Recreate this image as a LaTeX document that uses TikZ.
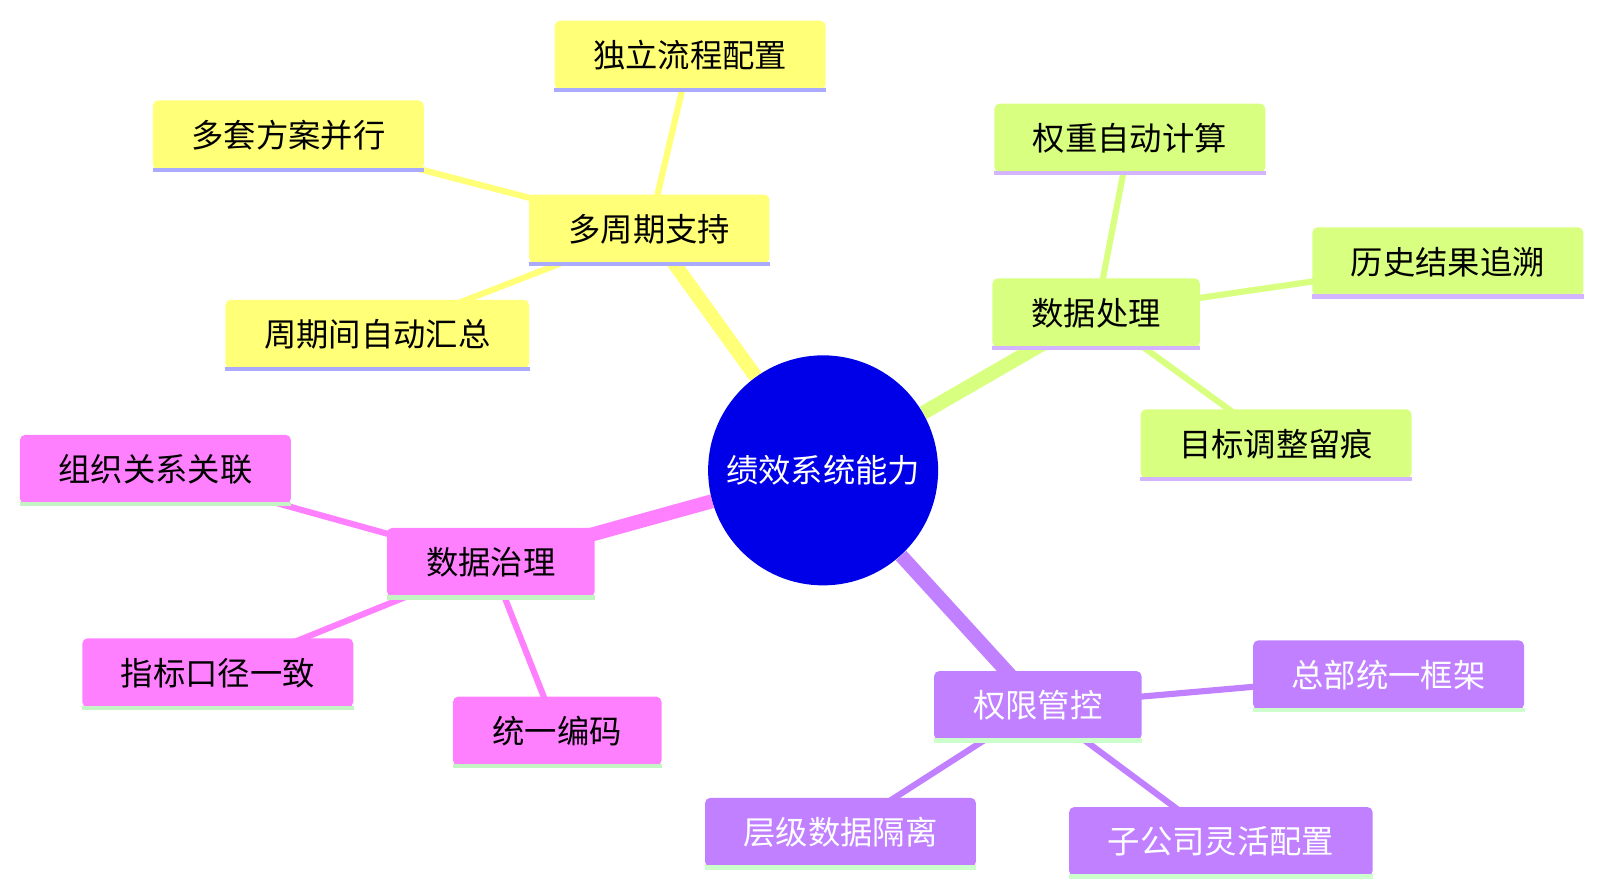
\documentclass[tikz,border=0pt]{standalone}
\usepackage{fontspec}
\setmainfont{Noto Sans CJK SC}
\usetikzlibrary{backgrounds}
\definecolor{ylw}{HTML}{FFFF78}
\definecolor{ylwu}{HTML}{AAAAFF}
\definecolor{grn}{HTML}{D9FF80}
\definecolor{grnu}{HTML}{D2B4FF}
\definecolor{pnk}{HTML}{FF80FF}
\definecolor{pnku}{HTML}{C4F4C4}
\definecolor{prp}{HTML}{C080FF}
\definecolor{prpu}{HTML}{CCFFCC}
\definecolor{rootblue}{HTML}{0000E8}
\tikzset{
  box/.style={rounded corners=3pt, minimum height=1.35cm, inner sep=0pt, font=\fontsize{18}{21}\selectfont},
  trunk/.style={line width=8pt},
  twig/.style={line width=3.5pt},
}
\begin{document}
\begin{tikzpicture}[x=0.02cm,y=-0.02cm]
\begin{scope}[scale=1.0225, transform shape]
\node[circle, fill=rootblue, minimum size=4.5cm, text=white, font=\fontsize{18}{21}\selectfont] (root) at (805,460) {绩效系统能力};
% yellow branch
\node[box, fill=ylw, minimum width=4.7cm] (cycle) at (635,224) {多周期支持};
\node[box, fill=ylw, minimum width=5.3cm] (flow) at (675,54) {独立流程配置};
\node[box, fill=ylw, minimum width=5.3cm] (plans) at (282,132) {多套方案并行};
\node[box, fill=ylw, minimum width=5.94cm] (sum) at (369,327) {周期间自动汇总};
% green branch
\node[box, fill=grn, minimum width=4.06cm] (proc) at (1072,306) {数据处理};
\node[box, fill=grn, minimum width=5.3cm] (weight) at (1105,135) {权重自动计算};
\node[box, fill=grn, minimum width=5.3cm] (hist) at (1416,256) {历史结果追溯};
\node[box, fill=grn, minimum width=5.3cm] (goal) at (1248,434) {目标调整留痕};
% pink branch
\node[box, fill=pnk, minimum width=4.06cm] (gov) at (480,550) {数据治理};
\node[box, fill=pnk, minimum width=5.3cm] (org) at (152,459) {组织关系关联};
\node[box, fill=pnk, minimum width=5.3cm] (metric) at (213,658) {指标口径一致};
\node[box, fill=pnk, minimum width=4.08cm] (code) at (545,715) {统一编码};
% purple branch
\node[box, fill=prp, text=white, minimum width=4.06cm] (perm) at (1015,690) {权限管控};
\node[box, fill=prp, text=white, minimum width=5.3cm] (hq) at (1358,660) {总部统一框架};
\node[box, fill=prp, text=white, minimum width=5.3cm] (iso) at (822,814) {层级数据隔离};
\node[box, fill=prp, text=white, minimum width=5.94cm] (sub) at (1194,823) {子公司灵活配置};
% underlines
\foreach \n in {cycle,flow,plans,sum} \draw[ylwu, line width=2.5pt] (\n.south west) -- (\n.south east);
\foreach \n in {proc,weight,hist,goal} \draw[grnu, line width=2.5pt] (\n.south west) -- (\n.south east);
\foreach \n in {gov,org,metric,code} \draw[pnku, line width=2.5pt] (\n.south west) -- (\n.south east);
\foreach \n in {perm,hq,iso,sub} \draw[prpu, line width=2.5pt] (\n.south west) -- (\n.south east);
% connectors
\begin{scope}[on background layer]
\draw[trunk, ylw] (root) -- (cycle.center);
\draw[trunk, grn] (root) -- (proc.center);
\draw[trunk, pnk] (root) -- (gov.center);
\draw[trunk, prp] (root) -- (perm.center);
\foreach \n in {flow,plans,sum} \draw[twig, ylw] (cycle.center) -- (\n.center);
\foreach \n in {weight,hist,goal} \draw[twig, grn] (proc.center) -- (\n.center);
\foreach \n in {org,metric,code} \draw[twig, pnk] (gov.center) -- (\n.center);
\foreach \n in {hq,iso,sub} \draw[twig, prp] (perm.center) -- (\n.center);
\end{scope}
\end{scope}
\pgfresetboundingbox
\useasboundingbox (0,0) rectangle (1603,893);
\end{tikzpicture}
\end{document}
